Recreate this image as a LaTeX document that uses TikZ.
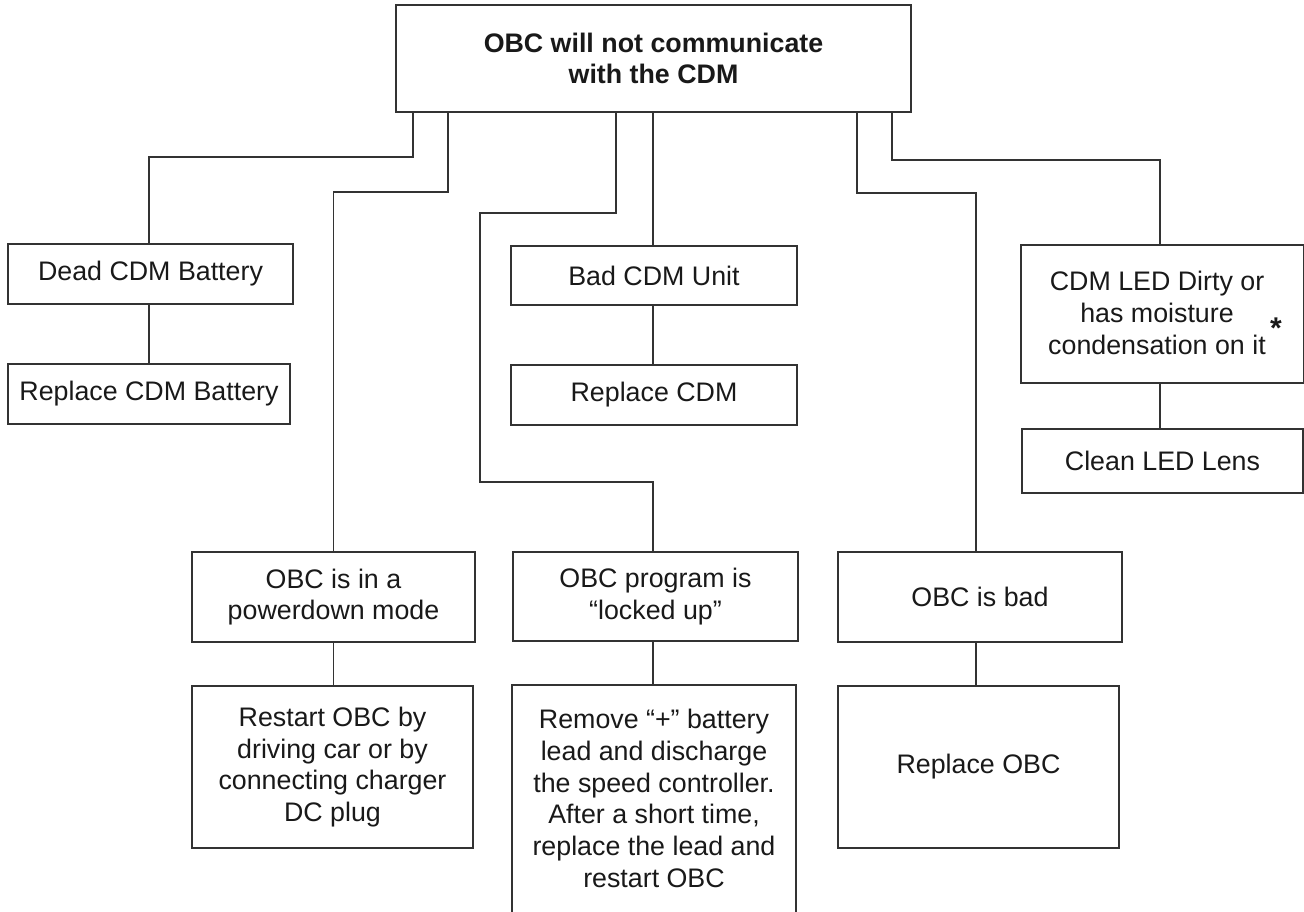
\documentclass[tikz,border=0pt]{standalone}
\usepackage{fontspec}
\setmainfont{Liberation Sans}
\definecolor{edge}{gray}{0.2}
\definecolor{ink}{gray}{0.1}
\tikzset{
  box/.style={draw=edge, line width=1.6pt, rectangle, inner sep=0pt, align=center,
              text=ink, font=\fontsize{26.8}{31.7}\selectfont},
  conn/.style={draw=edge, line width=1.6pt}
}
\newcommand{\bx}[6]{% name, x1, y1, x2, y2, text
  \node[box, minimum width={#4-#2}, minimum height={#5-#3}] (#1) at ({(#2+#4)/2},{(#3+#5)/2}) {#6};}
\begin{document}
\begin{tikzpicture}[x=1pt,y=-1pt]
\useasboundingbox (0,0) rectangle (1304,911);
% boxes
\bx{top}{396}{5}{911}{112}{\bfseries OBC will not communicate\\\bfseries with the CDM}
\bx{dead}{8}{244}{293}{304}{Dead CDM Battery}
\bx{rdb}{8}{364}{290}{424}{Replace CDM Battery}
\bx{bad}{511}{246}{797}{305}{Bad CDM Unit}
\bx{rcdm}{511}{365}{797}{425}{Replace CDM}
\node[box, draw=none, minimum width=281, minimum height=136] (led) at (1162.5,314) {};
\draw[conn] (led.south west) rectangle (led.north east);
\node[box, draw=none] (ledtxt) at (1157,313) {CDM LED Dirty or\\has moisture\\condensation on it};
\node[text=ink, font=\fontsize{30}{30}\selectfont\bfseries, inner sep=0pt] (star) at (1276,328) {*};
\bx{clean}{1022}{429}{1303}{493}{Clean LED Lens}
\bx{pd}{192}{552}{475}{642}{OBC is in a\\powerdown mode}
\bx{rst}{192}{686}{473}{848}{Restart OBC by\\driving car or by\\connecting charger\\DC plug}
\bx{prog}{513}{552}{798}{641}{OBC program is\\“locked up”}
\node[box, draw=none, minimum width=282, minimum height=225] (rm) at (654,798.5)
  {Remove “+” battery\\lead and discharge\\the speed controller.\\After a short time,\\replace the lead and\\restart OBC};
\draw[conn] (rm.south west) -- (rm.north west) -- (rm.north east) -- (rm.south east);
\bx{ob}{838}{552}{1122}{642}{OBC is bad}
\bx{rob}{838}{686}{1119}{848}{Replace OBC}
% corner points
\coordinate (k1) at (413,157);
\coordinate (k2) at (448,192);
\coordinate (k3) at (616,213);
\coordinate (k4) at (480,482);
\coordinate (c653) at (653,0);
\coordinate (k5) at (857,193);
\coordinate (c976) at (976,0);
\coordinate (k6) at (892,160);
\coordinate (c1160) at (1160,0);
% connectors from the top box
\draw[conn] (top.south -| k1) -- (k1) -| (dead.north -| 149,0);
\draw[conn] (top.south -| k2) -- (k2) -| (pd.north);
\draw[conn] (top.south -| k3) -- (k3) -| (k4) -| (prog.north -| c653);
\draw[conn] (top.south -| c653) -- (bad.north -| c653);
\draw[conn] (top.south -| k5) -- (k5) -| (ob.north -| c976);
\draw[conn] (top.south -| k6) -- (k6) -| (led.north -| c1160);
% connectors to the remedies
\draw[conn] (dead.south -| 149,0) -- (rdb.north -| 149,0);
\draw[conn] (bad.south -| c653) -- (rcdm.north -| c653);
\draw[conn] (led.south -| c1160) -- (clean.north -| c1160);
\draw[conn] (pd.south) -- (pd.south |- rst.north);
\draw[conn] (prog.south -| c653) -- (rm.north -| c653);
\draw[conn] (ob.south -| c976) -- (rob.north -| c976);
\end{tikzpicture}
\end{document}
